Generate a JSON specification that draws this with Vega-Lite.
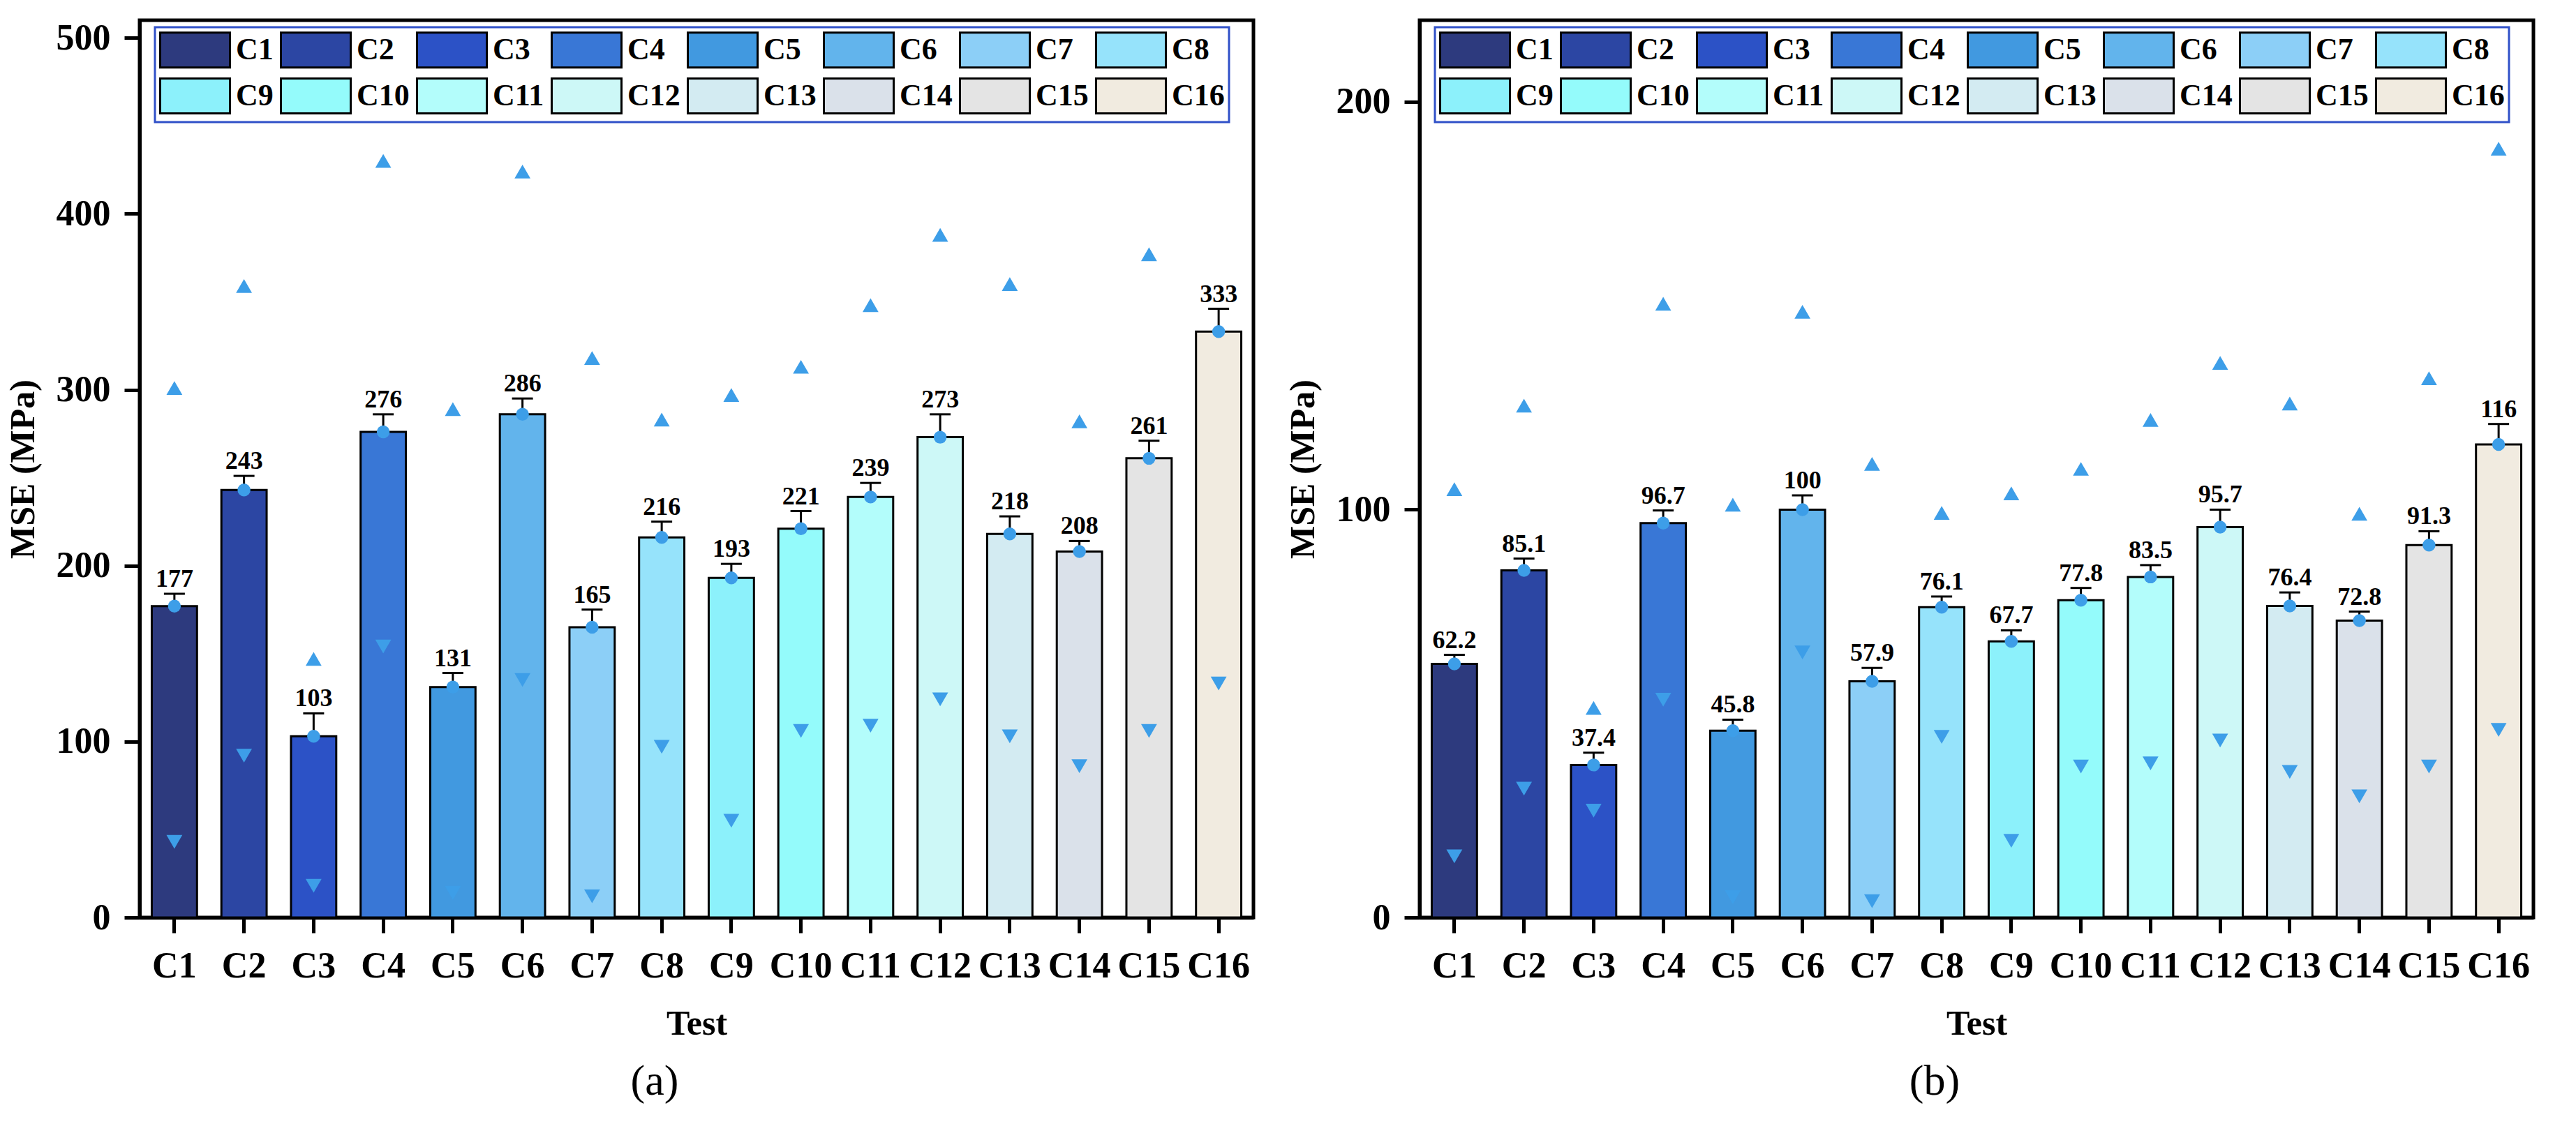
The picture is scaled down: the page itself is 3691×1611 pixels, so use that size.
{
  "$schema": "https://vega.github.io/schema/vega-lite/v6.json",
  "padding": {"left": 5, "top": 25, "right": 20, "bottom": 5},
  "background": "white",
  "datasets": {
    "a": [
      {"c": "C1", "m": 177, "lab": "177", "e": 184, "hi": 301, "lo": 43},
      {"c": "C2", "m": 243, "lab": "243", "e": 251, "hi": 359, "lo": 92},
      {"c": "C3", "m": 103, "lab": "103", "e": 116, "hi": 147, "lo": 18},
      {"c": "C4", "m": 276, "lab": "276", "e": 286, "hi": 430, "lo": 154},
      {"c": "C5", "m": 131, "lab": "131", "e": 139, "hi": 289, "lo": 14},
      {"c": "C6", "m": 286, "lab": "286", "e": 295, "hi": 424, "lo": 135},
      {"c": "C7", "m": 165, "lab": "165", "e": 175, "hi": 318, "lo": 12},
      {"c": "C8", "m": 216, "lab": "216", "e": 225, "hi": 283, "lo": 97},
      {"c": "C9", "m": 193, "lab": "193", "e": 201, "hi": 297, "lo": 55},
      {"c": "C10", "m": 221, "lab": "221", "e": 231, "hi": 313, "lo": 106},
      {"c": "C11", "m": 239, "lab": "239", "e": 247, "hi": 348, "lo": 109},
      {"c": "C12", "m": 273, "lab": "273", "e": 286, "hi": 388, "lo": 124},
      {"c": "C13", "m": 218, "lab": "218", "e": 228, "hi": 360, "lo": 103},
      {"c": "C14", "m": 208, "lab": "208", "e": 214, "hi": 282, "lo": 86},
      {"c": "C15", "m": 261, "lab": "261", "e": 271, "hi": 377, "lo": 106},
      {"c": "C16", "m": 333, "lab": "333", "e": 346, "hi": null, "lo": 133}
    ],
    "b": [
      {"c": "C1", "m": 62.2, "lab": "62.2", "e": 64.4, "hi": 105, "lo": 15},
      {"c": "C2", "m": 85.1, "lab": "85.1", "e": 88, "hi": 125.5, "lo": 31.6},
      {"c": "C3", "m": 37.4, "lab": "37.4", "e": 40.4, "hi": 51.4, "lo": 26.2},
      {"c": "C4", "m": 96.7, "lab": "96.7", "e": 99.8, "hi": 150.5, "lo": 53.4},
      {"c": "C5", "m": 45.8, "lab": "45.8", "e": 48.5, "hi": 101.2, "lo": 5},
      {"c": "C6", "m": 100, "lab": "100", "e": 103.5, "hi": 148.5, "lo": 65},
      {"c": "C7", "m": 57.9, "lab": "57.9", "e": 61.2, "hi": 111.2, "lo": 4},
      {"c": "C8", "m": 76.1, "lab": "76.1", "e": 78.7, "hi": 99.2, "lo": 44.3},
      {"c": "C9", "m": 67.7, "lab": "67.7", "e": 70.4, "hi": 104, "lo": 18.8},
      {"c": "C10", "m": 77.8, "lab": "77.8", "e": 80.8, "hi": 110, "lo": 37},
      {"c": "C11", "m": 83.5, "lab": "83.5", "e": 86.4, "hi": 122, "lo": 37.8},
      {"c": "C12", "m": 95.7, "lab": "95.7", "e": 100, "hi": 136, "lo": 43.4},
      {"c": "C13", "m": 76.4, "lab": "76.4", "e": 79.7, "hi": 126, "lo": 35.7},
      {"c": "C14", "m": 72.8, "lab": "72.8", "e": 75, "hi": 99, "lo": 29.7},
      {"c": "C15", "m": 91.3, "lab": "91.3", "e": 94.7, "hi": 132.2, "lo": 37},
      {"c": "C16", "m": 116, "lab": "116", "e": 121, "hi": 188.5, "lo": 46}
    ]
  },
  "config": {
    "view": {"stroke": "black", "strokeWidth": 5},
    "font": "Liberation Serif",
    "axis": {
      "domainColor": "black", "domainWidth": 5,
      "tickColor": "black", "tickWidth": 5, "tickSize": 22,
      "labelFont": "Liberation Serif", "labelFontWeight": "bold", "labelFontSize": 52, "labelColor": "black",
      "titleFont": "Liberation Serif", "titleFontWeight": "bold", "titleFontSize": 50, "titleColor": "black",
      "grid": false
    },
    "axisX": {"labelAngle": 0, "labelPadding": 22, "titlePadding": 32},
    "axisY": {"labelPadding": 20, "titlePadding": 22},
    "legend": {
      "orient": "none", "legendX": 22, "legendY": 10,
      "direction": "horizontal", "columns": 8, "title": null,
      "symbolType": "M-1,-1H3V1H-1Z", "symbolSize": 2500,
      "symbolStrokeColor": "black", "symbolStrokeWidth": 3, "symbolOpacity": 1,
      "labelFont": "Liberation Serif", "labelFontWeight": "bold", "labelFontSize": 44, "labelColor": "black",
      "labelOffset": 57, "columnPadding": 4, "rowPadding": 3, "padding": 6,
      "fillColor": "white", "strokeColor": "#3050c8", "strokeWidth": 3
    },
    "title": {"font": "Liberation Serif", "fontSize": 62, "fontWeight": "normal", "color": "black"}
  },
  "spacing": 40,
  "resolve": {"scale": {"color": "independent", "y": "independent"}, "legend": {"color": "independent"}},
  "hconcat": [
    {
      "width": 1596, "height": 1286,
      "data": {"name": "a"},
      "title": {"text": "(a)", "orient": "bottom", "offset": 28, "anchor": "middle", "dx": -60},
      "encoding": {
        "x": {"field": "c", "type": "nominal", "sort": null, "title": "Test",
              "scale": {"paddingInner": 0.35, "paddingOuter": 0.175}}
      },
      "layer": [
        {
          "mark": {"type": "bar", "stroke": "black", "strokeWidth": 3},
          "encoding": {
            "y": {"field": "m", "type": "quantitative", "title": "MSE (MPa)",
                  "scale": {"domain": [0, 510], "nice": false},
                  "axis": {"values": [0, 100, 200, 300, 400, 500]}},
            "color": {"field": "c", "type": "nominal", "sort": null,
              "scale": {"domain": ["C1","C2","C3","C4","C5","C6","C7","C8","C9","C10","C11","C12","C13","C14","C15","C16"],
                        "range": ["#2d3a7e","#2c46a3","#2c52c6","#3977d6","#4199e0","#62b4ec","#8ccff7","#96e3fb","#8cf1fb","#94fbfb","#b3fdfb","#cdf8f7","#d3ebf2","#dae1ea","#e4e4e4","#f1ebe0"]}}
          }
        },
        {
          "mark": {"type": "rule", "color": "black", "strokeWidth": 3},
          "encoding": {"y": {"field": "m", "type": "quantitative", "title": "MSE (MPa)"}, "y2": {"field": "e"}}
        },
        {
          "mark": {"type": "tick", "color": "black", "thickness": 3, "size": 30, "opacity": 1},
          "encoding": {"y": {"field": "e", "type": "quantitative", "title": "MSE (MPa)"}}
        },
        {
          "mark": {"type": "point", "shape": "circle", "filled": true, "color": "#3d9ee8", "size": 340, "opacity": 1},
          "encoding": {"y": {"field": "m", "type": "quantitative", "title": "MSE (MPa)"}}
        },
        {
          "mark": {"type": "point", "shape": "triangle-up", "filled": true, "color": "#3d9ee8", "size": 520, "opacity": 1},
          "encoding": {"y": {"field": "hi", "type": "quantitative", "title": "MSE (MPa)"}}
        },
        {
          "mark": {"type": "point", "shape": "triangle-down", "filled": true, "color": "#3d9ee8", "size": 520, "opacity": 1},
          "encoding": {"y": {"field": "lo", "type": "quantitative", "title": "MSE (MPa)"}}
        },
        {
          "mark": {"type": "text", "font": "Liberation Serif", "fontWeight": "bold", "fontSize": 36, "baseline": "alphabetic", "dy": -10, "color": "black"},
          "encoding": {"y": {"field": "e", "type": "quantitative", "title": "MSE (MPa)"}, "text": {"field": "lab"}}
        }
      ]
    },
    {
      "width": 1596, "height": 1286,
      "data": {"name": "b"},
      "title": {"text": "(b)", "orient": "bottom", "offset": 28, "anchor": "middle", "dx": -60},
      "encoding": {
        "x": {"field": "c", "type": "nominal", "sort": null, "title": "Test",
              "scale": {"paddingInner": 0.35, "paddingOuter": 0.175}}
      },
      "layer": [
        {
          "mark": {"type": "bar", "stroke": "black", "strokeWidth": 3},
          "encoding": {
            "y": {"field": "m", "type": "quantitative", "title": "MSE (MPa)",
                  "scale": {"domain": [0, 220], "nice": false},
                  "axis": {"values": [0, 100, 200]}},
            "color": {"field": "c", "type": "nominal", "sort": null,
              "scale": {"domain": ["C1","C2","C3","C4","C5","C6","C7","C8","C9","C10","C11","C12","C13","C14","C15","C16"],
                        "range": ["#2d3a7e","#2c46a3","#2c52c6","#3977d6","#4199e0","#62b4ec","#8ccff7","#96e3fb","#8cf1fb","#94fbfb","#b3fdfb","#cdf8f7","#d3ebf2","#dae1ea","#e4e4e4","#f1ebe0"]}}
          }
        },
        {
          "mark": {"type": "rule", "color": "black", "strokeWidth": 3},
          "encoding": {"y": {"field": "m", "type": "quantitative", "title": "MSE (MPa)"}, "y2": {"field": "e"}}
        },
        {
          "mark": {"type": "tick", "color": "black", "thickness": 3, "size": 30, "opacity": 1},
          "encoding": {"y": {"field": "e", "type": "quantitative", "title": "MSE (MPa)"}}
        },
        {
          "mark": {"type": "point", "shape": "circle", "filled": true, "color": "#3d9ee8", "size": 340, "opacity": 1},
          "encoding": {"y": {"field": "m", "type": "quantitative", "title": "MSE (MPa)"}}
        },
        {
          "mark": {"type": "point", "shape": "triangle-up", "filled": true, "color": "#3d9ee8", "size": 520, "opacity": 1},
          "encoding": {"y": {"field": "hi", "type": "quantitative", "title": "MSE (MPa)"}}
        },
        {
          "mark": {"type": "point", "shape": "triangle-down", "filled": true, "color": "#3d9ee8", "size": 520, "opacity": 1},
          "encoding": {"y": {"field": "lo", "type": "quantitative", "title": "MSE (MPa)"}}
        },
        {
          "mark": {"type": "text", "font": "Liberation Serif", "fontWeight": "bold", "fontSize": 36, "baseline": "alphabetic", "dy": -10, "color": "black"},
          "encoding": {"y": {"field": "e", "type": "quantitative", "title": "MSE (MPa)"}, "text": {"field": "lab"}}
        }
      ]
    }
  ]
}
